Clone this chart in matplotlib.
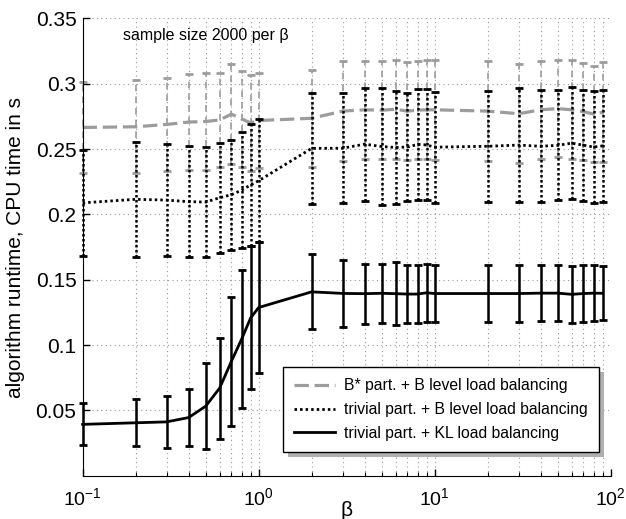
# Tiempo de ejecución del algoritmo frente a beta, con barras de error (media +- desviación).
import matplotlib
matplotlib.use('Agg')
import matplotlib.pyplot as plt
from matplotlib.patches import Rectangle
from matplotlib.ticker import FixedLocator, FuncFormatter, NullFormatter

plt.rcParams['font.family'] = ['Liberation Sans', 'DejaVu Sans']

beta = [0.1, 0.2, 0.3, 0.4, 0.5, 0.6, 0.7, 0.8, 0.9,
        1, 2, 3, 4, 5, 6, 7, 8, 9,
        10, 20, 30, 40, 50, 60, 70, 80, 90]

# B* part. + B level load balancing
media_bstar = [0.2665, 0.2670, 0.2688, 0.2706, 0.2711, 0.2722, 0.2767, 0.2730, 0.2700,
               0.2718, 0.2735, 0.2790, 0.2800, 0.2797, 0.2804, 0.2790, 0.2797, 0.2800,
               0.2800, 0.2790, 0.2770, 0.2800, 0.2809, 0.2800, 0.2786, 0.2767, 0.2782]
desv_bstar = [0.0350, 0.0355, 0.0353, 0.0370, 0.0370, 0.0360, 0.0380, 0.0365, 0.0370,
              0.0365, 0.0370, 0.0380, 0.0373, 0.0375, 0.0379, 0.0373, 0.0376, 0.0378,
              0.0384, 0.0383, 0.0380, 0.0373, 0.0374, 0.0379, 0.0372, 0.0365, 0.0380]

# trivial part. + B level load balancing
media_blevel = [0.2088, 0.2115, 0.2109, 0.2097, 0.2094, 0.2127, 0.2150, 0.2185, 0.2225,
                0.2257, 0.2505, 0.2506, 0.2537, 0.2519, 0.2512, 0.2515, 0.2535, 0.2531,
                0.2514, 0.2521, 0.2530, 0.2521, 0.2528, 0.2545, 0.2529, 0.2515, 0.2524]
desv_blevel = [0.0408, 0.0438, 0.0430, 0.0425, 0.0418, 0.0420, 0.0419, 0.0445, 0.0470,
               0.0469, 0.0423, 0.0420, 0.0433, 0.0444, 0.0433, 0.0416, 0.0427, 0.0425,
               0.0426, 0.0424, 0.0433, 0.0429, 0.0421, 0.0429, 0.0425, 0.0430, 0.0429]

# trivial part. + KL load balancing
media_kl = [0.0393, 0.0405, 0.0412, 0.0445, 0.0532, 0.0670, 0.0875, 0.1045, 0.1207,
            0.1287, 0.1407, 0.1395, 0.1393, 0.1396, 0.1393, 0.1390, 0.1390, 0.1400,
            0.1394, 0.1394, 0.1394, 0.1397, 0.1397, 0.1388, 0.1394, 0.1397, 0.1396]
desv_kl = [0.0160, 0.0180, 0.0200, 0.0220, 0.0327, 0.0387, 0.0493, 0.0529, 0.0547,
           0.0500, 0.0286, 0.0259, 0.0229, 0.0226, 0.0241, 0.0220, 0.0220, 0.0222,
           0.0216, 0.0216, 0.0216, 0.0212, 0.0212, 0.0216, 0.0216, 0.0212, 0.0206]

etiquetas = ['B* part. + B level load balancing',
             'trivial part. + B level load balancing',
             'trivial part. + KL load balancing']

gris = '#9c9c9c'

fig = plt.figure(figsize=(6.26, 5.19), dpi=100)
ax = fig.add_axes([0.132, 0.0834, 0.8436, 0.8813])
ax.set_xscale('log')


def dibujar_serie(media, desv, color, estilo, lw, estilo_barra, lw_barra, label, z):
    # Barras de error sin marcador; la línea de la media se dibuja aparte para la leyenda
    _, caps, barras = ax.errorbar(beta, media, yerr=desv, fmt='none', ecolor=color,
                                  elinewidth=lw_barra, capsize=2.7, capthick=2, zorder=z)
    barras[0].set_linestyle(estilo_barra)
    barras[0].set_clip_on(False)
    for c in caps:
        c.set_clip_on(False)
    ax.plot(beta, media, color=color, linestyle=estilo, lw=lw, label=label,
            zorder=z + 0.5, clip_on=False)


dibujar_serie(media_bstar, desv_bstar, gris, (0, (4.5, 1.8)), 2.3, (0, (4, 3)), 1.2,
              etiquetas[0], 2)
dibujar_serie(media_blevel, desv_blevel, 'black', (0, (0.9, 1.1)), 2.0, (0, (1, 1)), 1.8,
              etiquetas[1], 3)
dibujar_serie(media_kl, desv_kl, 'black', '-', 2.0, '-', 1.8, etiquetas[2], 4)

ax.set_xlim(0.1, 100)
ax.set_ylim(0, 0.35)
ax.yaxis.set_major_locator(FixedLocator([0.05, 0.1, 0.15, 0.2, 0.25, 0.3, 0.35]))
ax.yaxis.set_major_formatter(FuncFormatter(lambda v, p: '%g' % v))
ax.xaxis.set_major_locator(FixedLocator([0.1, 1, 10, 100]))
menores = [m * d for d in (0.1, 1, 10) for m in range(2, 10)]
ax.xaxis.set_minor_locator(FixedLocator(menores))
ax.xaxis.set_minor_formatter(NullFormatter())

ax.grid(True, which='major', axis='both', linestyle=(0, (1, 3)), color='0.6', lw=0.8)
ax.grid(True, which='minor', axis='x', linestyle=(0, (1, 3)), color='0.6', lw=0.8)
ax.set_axisbelow(True)

ax.spines['top'].set_visible(False)
ax.spines['right'].set_visible(False)
ax.tick_params(which='major', direction='in', length=5, width=1)
ax.tick_params(which='minor', direction='in', length=3, width=0.8)
ax.tick_params(axis='x', which='major', labelsize=14, pad=8)
ax.tick_params(axis='y', which='major', labelsize=15, pad=4.5)

ax.set_xlabel('β', fontsize=15)
ax.xaxis.set_label_coords(0.5, -0.056)
ax.set_ylabel('algorithm runtime, CPU time in s', fontsize=15)
ax.yaxis.set_label_coords(-0.109, 0.5)

ax.text(0.076, 0.9635, 'sample size 2000 per β', transform=ax.transAxes,
        fontsize=11.5, va='center', ha='left')

leyenda = ax.legend(loc='lower right', bbox_to_anchor=(0.978, 0.0525), borderaxespad=0,
                    fontsize=11.3, fancybox=False, edgecolor='black', framealpha=1,
                    handlelength=2.6, handletextpad=0.6, labelspacing=0.55, borderpad=0.7)
leyenda.get_frame().set_linewidth(1.0)
leyenda.set_zorder(10)

# Sombra gris desplazada detrás de la leyenda
fig.canvas.draw()
caja = leyenda.get_window_extent()
inv = ax.transAxes.inverted()
(x0, y0), (x1, y1) = inv.transform([[caja.x0 + 5, caja.y0 - 5], [caja.x1 + 5, caja.y1 - 5]])
ax.add_patch(Rectangle((x0, y0), x1 - x0, y1 - y0, transform=ax.transAxes,
                       facecolor='#b0b0b0', edgecolor='none', zorder=9, clip_on=False))

fig.savefig('out.png', dpi=100)
